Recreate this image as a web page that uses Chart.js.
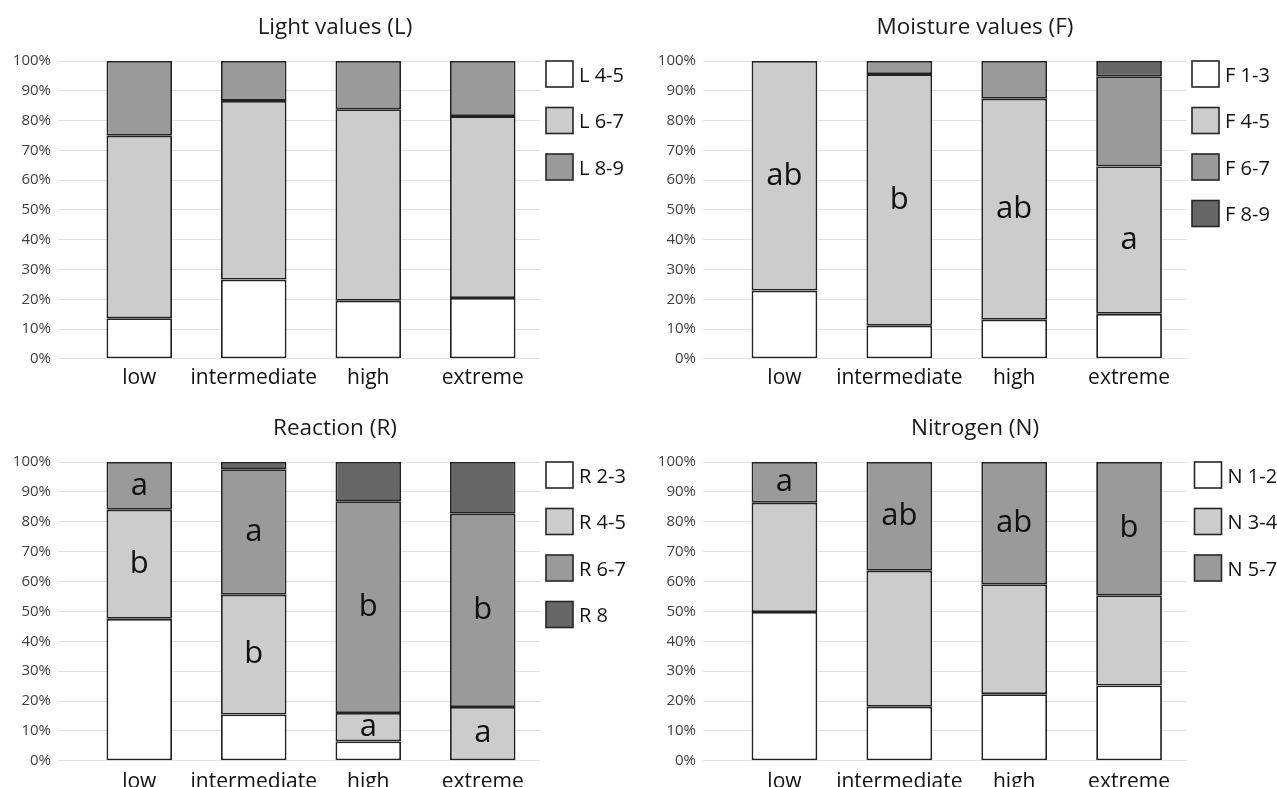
<!DOCTYPE html>
<html lang="en">
<head>
    <meta charset="UTF-8">
    <title>Ecological indicator values</title>
    <script src="https://cdn.jsdelivr.net/npm/chart.js"></script>
    <style>
        body { margin: 0; background: #fff; overflow: hidden; }
        .panel { position: absolute; width: 670px; height: 400px; }
        .low { height: 403px; }
    </style>
</head>
<body>
    <div class="panel" style="left:0;top:0"><canvas id="lightChart"></canvas></div>
    <div class="panel" style="left:640px;top:0"><canvas id="moistChart"></canvas></div>
    <div class="panel low" style="left:0;top:401px"><canvas id="reactChart"></canvas></div>
    <div class="panel low" style="left:640px;top:401px"><canvas id="nitroChart"></canvas></div>

    <script>
        const categories = ['low', 'intermediate', 'high', 'extreme'];
        const yTicks = [0, 10, 20, 30, 40, 50, 60, 70, 80, 90, 100];

        // Light values (L)
        const lightNames = ['L 4-5', 'L 6-7', 'L 8-9'];
        const light45 = [13.6, 26.6, 19.5, 20.4];
        const light67 = [61.3, 60.0, 64.3, 61.1];
        const light89 = [25.1, 13.4, 16.2, 18.5];

        // Moisture values (F)
        const moistNames = ['F 1-3', 'F 4-5', 'F 6-7', 'F 8-9'];
        const moist13 = [22.9, 11.1, 13.1, 15.1];
        const moist45 = [77.1, 84.5, 74.2, 49.5];
        const moist67 = [0, 4.4, 12.7, 30.3];
        const moist89 = [0, 0, 0, 5.1];
        const moistLetters = ['ab', 'b', 'ab', 'a'];

        // Reaction (R)
        const reactNames = ['R 2-3', 'R 4-5', 'R 6-7', 'R 8'];
        const react23 = [47.5, 15.5, 6.5, 0];
        const react45 = [36.5, 40.1, 9.5, 18.0];
        const react67 = [16.0, 42.0, 70.9, 64.7];
        const react8 = [0, 2.4, 13.1, 17.3];
        const react45Letters = ['b', 'b', 'a', 'a'];
        const react67Letters = ['a', 'a', 'b', 'b'];

        // Nitrogen (N)
        const nitroNames = ['N 1-2', 'N 3-4', 'N 5-7'];
        const nitro12 = [49.8, 18.1, 22.3, 25.2];
        const nitro34 = [36.6, 45.5, 36.8, 30.2];
        const nitro57 = [13.6, 36.4, 40.9, 44.6];
        const nitroLetters = ['a', 'ab', 'ab', 'b'];

        const greys = ['#ffffff', '#cccccc', '#9a9a9a', '#666666'];
        const FONT = "'Open Sans', sans-serif";

        // letters written in the middle of a bar segment
        const letterPlugin = {
            id: 'segLetters',
            afterDatasetsDraw(chart, args, opts) {
                const ctx = chart.ctx;
                ctx.save();
                ctx.fillStyle = '#111';
                ctx.font = '31px ' + FONT;
                ctx.textAlign = 'center';
                ctx.textBaseline = 'middle';
                (opts.items || []).forEach(item => {
                    const meta = chart.getDatasetMeta(item.ds);
                    item.texts.forEach((t, i) => {
                        const bar = meta.data[i];
                        ctx.fillText(t, bar.x, (bar.y + bar.base) / 2);
                    });
                });
                ctx.restore();
            }
        };

        // square legend to the right of the plot
        const sideLegend = {
            id: 'sideLegend',
            afterDraw(chart, args, opts) {
                const ctx = chart.ctx;
                const area = chart.chartArea;
                ctx.save();
                ctx.font = '20px ' + FONT;
                ctx.textBaseline = 'middle';
                chart.data.datasets.forEach((ds, i) => {
                    const x = area.right + opts.gap;
                    const y = area.top + i * 46.5;
                    ctx.fillStyle = ds.backgroundColor;
                    ctx.fillRect(x, y, 27, 26);
                    ctx.strokeStyle = '#262626';
                    ctx.lineWidth = 1.6;
                    ctx.strokeRect(x, y, 27, 26);
                    ctx.fillStyle = '#111';
                    ctx.fillText(ds.label, x + 33, y + 15);
                });
                ctx.restore();
            }
        };

        // yWidth = plot left edge, rightWidth = room kept for the legend
        function makeChart(id, title, names, series, letters, yWidth, rightWidth, gap, xPad) {
            const datasets = names.map((n, i) => ({
                label: n,
                data: series[i],
                backgroundColor: greys[i],
                borderColor: '#222',
                borderWidth: 1.8,
                borderSkipped: false,
                barPercentage: 0.572,
                categoryPercentage: 1
            }));
            return new Chart(document.getElementById(id), {
                type: 'bar',
                data: { labels: categories, datasets: datasets },
                options: {
                    responsive: true,
                    maintainAspectRatio: false,
                    animation: false,
                    layout: { padding: { left: 0, right: 0, top: 0, bottom: 9 - xPad } },
                    plugins: {
                        legend: { display: false },
                        tooltip: { enabled: false },
                        title: {
                            display: true,
                            text: title,
                            color: '#1a1a1a',
                            font: { family: FONT, size: 22.5, weight: 'normal' },
                            padding: { top: 14, bottom: 20 }
                        },
                        segLetters: { items: letters },
                        sideLegend: { gap: gap }
                    },
                    scales: {
                        x: {
                            stacked: true,
                            grid: { display: false, drawTicks: false },
                            border: { display: false },
                            ticks: {
                                color: '#111', padding: xPad, autoSkip: false,
                                maxRotation: 0, minRotation: 0,
                                font: { family: FONT, size: 21 }
                            }
                        },
                        y: {
                            stacked: true,
                            min: 0,
                            max: 100,
                            afterBuildTicks: s => { s.ticks = yTicks.map(v => ({ value: v })); },
                            afterFit: s => { s.width = yWidth; },
                            ticks: {
                                color: '#404040',
                                padding: 7,
                                font: { family: FONT, size: 15 },
                                callback: v => v + '%'
                            },
                            grid: { color: '#e3e3e3', lineWidth: 1, drawTicks: true, tickLength: 24 },
                            border: { display: false }
                        },
                        room: {
                            position: 'right',
                            min: 0,
                            max: 100,
                            grid: { display: false, drawTicks: false },
                            border: { display: false },
                            ticks: { display: false },
                            afterFit: s => { s.width = rightWidth; }
                        }
                    }
                },
                plugins: [letterPlugin, sideLegend]
            });
        }

        makeChart('lightChart', 'Light values (L)', lightNames,
            [light45, light67, light89], [], 82, 130, 6, 7);
        makeChart('moistChart', 'Moisture values (F)', moistNames,
            [moist13, moist45, moist67, moist89],
            [{ ds: 1, texts: moistLetters }], 87, 123.5, 5.5, 7);
        makeChart('reactChart', 'Reaction (R)', reactNames,
            [react23, react45, react67, react8],
            [{ ds: 1, texts: react45Letters }, { ds: 2, texts: react67Letters }], 82, 130, 6, 9);
        makeChart('nitroChart', 'Nitrogen (N)', nitroNames,
            [nitro12, nitro34, nitro57],
            [{ ds: 2, texts: nitroLetters }], 87, 123.5, 8, 9);
    </script>
</body>
</html>
